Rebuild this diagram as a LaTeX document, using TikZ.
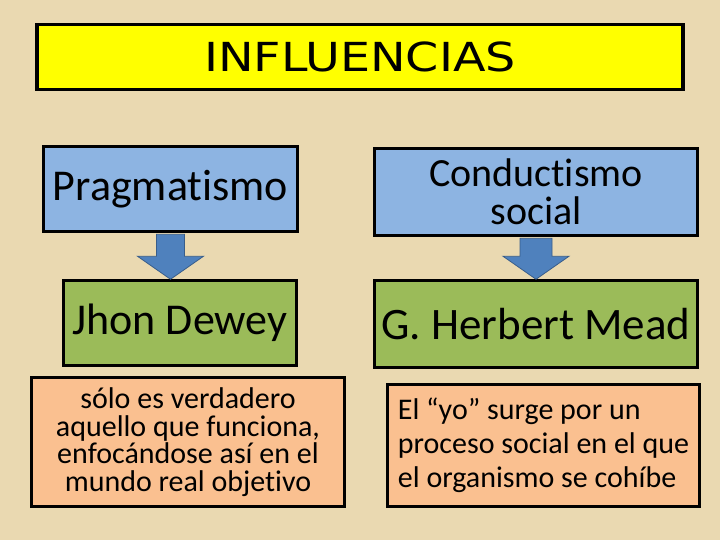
\documentclass[tikz,border=0pt]{standalone}
\usepackage{fontspec}
\setmainfont{Carlito}[Ligatures={TeX,NoCommon}]
\newfontfamily\titulofont[FakeStretch=1.19]{DejaVu Sans}
\usetikzlibrary{calc}

\definecolor{fondo}{RGB}{234,217,177}
\definecolor{amarillo}{RGB}{255,255,0}
\definecolor{azulcaja}{RGB}{141,180,226}
\definecolor{verdecaja}{RGB}{155,187,89}
\definecolor{naranjacaja}{RGB}{250,192,144}
\definecolor{azulflecha}{RGB}{79,129,189}
\definecolor{bordeflecha}{RGB}{56,93,138}

\tikzset{
  caja/.style={draw=black, line width=2.5pt, inner sep=0pt, align=center},
  flecha/.style={fill=azulflecha, draw=bordeflecha, line width=0.8pt}
}

\begin{document}
\begin{tikzpicture}[x=1pt, y=-1pt]
        \fill[fondo] (0,0) rectangle (720,540);

        \node[caja, line width=3.5pt, fill=amarillo, minimum width=646, minimum height=65,
            font=\titulofont\fontsize{40}{44}\selectfont] (titulo) at (360,57) {INFLUENCIAS};

        \node[caja, fill=azulcaja, minimum width=254, minimum height=85,
            font=\fontsize{44}{48}\selectfont] (prag) at (170.5,189) {Pragmatismo};
        \node[caja, fill=azulcaja, minimum width=323, minimum height=87,
            font=\fontsize{40}{38}\selectfont] (cond) at (536,192) {Conductismo\\ social};

        \node[caja, fill=verdecaja, minimum width=233, minimum height=85,
            font=\fontsize{44}{48}\selectfont] (dewey) at (180,323) {Jhon Dewey};
        \node[caja, fill=verdecaja, minimum width=323, minimum height=87,
            font=\fontsize{45}{48}\selectfont] (mead) at (536,324) {G. Herbert Mead};

        \node[caja, fill=naranjacaja, minimum width=313, minimum height=129,
            font=\fontsize{30}{27.5}\selectfont] (pragtxt) at (188,442)
            {s\'olo es verdadero\\ aquello que funciona,\\ enfoc\'andose as\'i en el\\ mundo real objetivo};
        \node[caja, fill=naranjacaja, align=left, minimum width=312, minimum height=122,
            font=\fontsize{30}{34}\selectfont] (meadtxt) at (543.5,445.5)
            {El “yo” surge por un\\ proceso social en el que\\ el organismo se coh\'ibe};

        % flechas
        \coordinate (a1) at (prag.south);
        \coordinate (b1) at (prag.south |- dewey.north);
        \draw[flecha] ($(a1)+(-14,1.5)$) -- ($(a1)+(14,1.5)$) -- ($(b1)+(14,-23)$) -- ($(b1)+(33,-23)$)
            -- (b1) -- ($(b1)+(-33,-23)$) -- ($(b1)+(-14,-23)$) -- cycle;

        \coordinate (a2) at (cond.south);
        \coordinate (b2) at (cond.south |- mead.north);
        \draw[flecha] ($(a2)+(-16,1.5)$) -- ($(a2)+(16,1.5)$) -- ($(b2)+(16,-23)$) -- ($(b2)+(33,-23)$)
            -- (b2) -- ($(b2)+(-33,-23)$) -- ($(b2)+(-16,-23)$) -- cycle;
\end{tikzpicture}
\end{document}
